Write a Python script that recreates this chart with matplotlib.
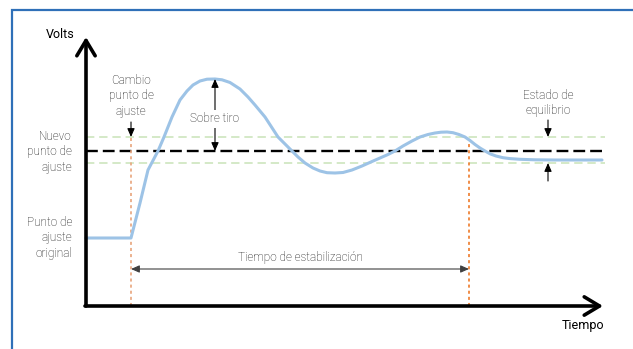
import matplotlib
matplotlib.use("Agg")
import matplotlib.pyplot as plt
from matplotlib.patches import Rectangle

plt.rcParams['font.family'] = ['Roboto', 'DejaVu Sans']
plt.rcParams['lines.scale_dashes'] = False

# ---- data (time units, volts units) ----
t_resp = [0, 45, 54, 62, 72, 78, 86, 94, 101, 107, 114, 121, 129, 136, 144, 154, 162, 169,
          179, 192, 199, 206, 212, 219, 227, 234, 241, 249, 257, 266, 276, 286, 294, 302,
          309, 317, 326, 334, 342, 349, 355, 361, 367, 373, 379, 384, 389, 394, 399, 404,
          410, 417, 424, 434, 449, 469, 494, 516]
v_resp = [68, 68, 103, 136, 155, 169, 189, 206, 215, 221, 225, 226.8, 227, 226.2, 223.5,
          217, 209, 201, 189, 169, 162, 155, 149, 143, 138, 135, 133.3, 133, 133.5, 136,
          140, 144.5, 148, 151.5, 155, 160, 165, 169, 171.5, 173, 173.8, 174, 173.3, 171.5,
          169, 165.5, 161.5, 158, 155, 152.2, 150, 148.3, 147.4, 146.7, 146.2, 146, 146, 146]
v_new = 155
v_orig = 68
band_hi = 169
band_lo = 143
t_change = 45
t_settle = 383
v_peak = 227
t_peak = 129
t_eq = 462

W, H = 633, 349
fig = plt.figure(figsize=(W / 100, H / 100), dpi=100)
ax = fig.add_axes([86 / W, (H - 306) / H, 517 / W, 269 / H])
ax.set_xlim(0, 517)
ax.set_ylim(0, 269)
ax.axis('off')

# blue frame
fig.add_artist(Rectangle((12 / W, -0.2), 2, 1 - 10 / H + 0.2, transform=fig.transFigure,
                         fill=False, ec='#2F70B8', lw=1.6))

# bands
for v in (band_hi, band_lo):
    ax.plot([0, 519], [v, v], color='#C9E3B8', lw=1.1, dashes=(6, 3.5), clip_on=False)
# new setpoint
ax.plot([0, 517], [v_new, v_new], color='black', lw=1.7, dashes=(8.5, 3.6), clip_on=False)

# vertical dotted lines
ax.plot([t_change, t_change], [0, band_hi], color='#E8A47C', lw=1.2, dashes=(2.2, 2.2))
ax.plot([t_settle, t_settle], [0, 166], color='#EE7A2A', lw=1.2, dashes=(2.2, 2.2))

# response
ax.plot(t_resp, v_resp, color='#9DC3E6', lw=2.2, solid_capstyle='round',
        solid_joinstyle='round', clip_on=False)

# axes arrows
ax.annotate('', xy=(0, 269), xytext=(0, 0),
            arrowprops=dict(arrowstyle='->,head_length=0.55,head_width=0.33', lw=2.6,
                            color='black', mutation_scale=20, shrinkA=0, shrinkB=0))
ax.annotate('', xy=(517, 0), xytext=(-1, 0),
            arrowprops=dict(arrowstyle='->,head_length=0.55,head_width=0.33', lw=2.6,
                            color='black', mutation_scale=20, shrinkA=0, shrinkB=0))

tc = '#111111'
fs = 8.5
fw = 'light'

def arrow(x0, y0, x1, y1, style='-|>', color='black'):
    ax.annotate('', xy=(x1, y1), xytext=(x0, y0),
                arrowprops=dict(arrowstyle=style + ',head_length=0.5,head_width=0.22', lw=0.8,
                                color=color, mutation_scale=10, shrinkA=0, shrinkB=0))

# Sobre tiro
arrow(t_peak, v_new, t_peak, v_peak, style='<|-|>')
ax.text(t_peak, 187, 'Sobre tiro', ha='center', va='center', fontsize=fs, color=tc,
        fontweight=fw, bbox=dict(fc='white', ec='none', pad=1.5))

# Cambio punto de ajuste
ax.text(t_change, 210, 'Cambio\npunto de\najuste', ha='center', va='center', fontsize=fs,
        color=tc, linespacing=1.25, fontweight=fw)
arrow(t_change, 184, t_change, band_hi)

# Estado de equilibrio
ax.text(t_eq, 203, 'Estado de\nequilibrio', ha='center', va='center', fontsize=fs,
        color=tc, linespacing=1.25, fontweight=fw)
arrow(t_eq, 186, t_eq, band_hi)
arrow(t_eq, 125, t_eq, band_lo)

# Tiempo de estabilizacion
arrow(t_change, 37, t_settle, 37, style='<|-|>', color='#404040')
ax.text(214, 49, 'Tiempo de estabilización', ha='center', va='center', fontsize=fs,
        color=tc, fontweight=fw)

# left labels
ax.text(-14, 154, 'Nuevo\npunto de\najuste', ha='right', va='center', fontsize=fs,
        color=tc, linespacing=1.25, clip_on=False, fontweight=fw)
ax.text(-14, v_orig, 'Punto de\najuste\noriginal', ha='right', va='center', fontsize=fs,
        color=tc, linespacing=1.25, clip_on=False, fontweight=fw)

ax.text(-26, 271, 'Volts', ha='center', va='center', fontsize=9, color='black', clip_on=False)
ax.text(497, -20, 'Tiempo', ha='center', va='center', fontsize=9, color='black', clip_on=False)

fig.savefig('out.png', dpi=100)
